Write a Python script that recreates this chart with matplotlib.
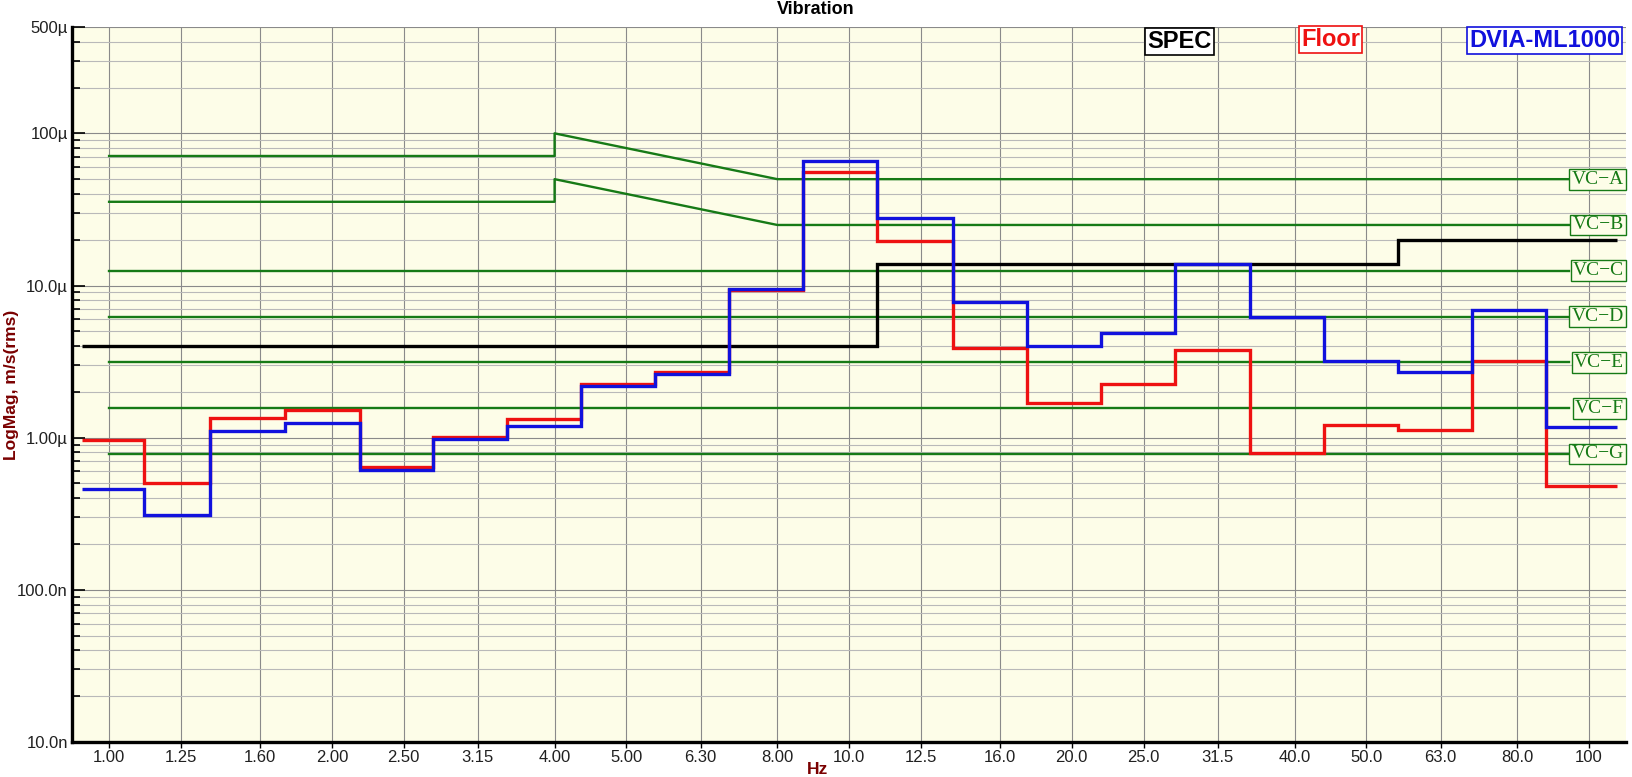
import matplotlib
matplotlib.use('Agg')
import matplotlib.pyplot as plt
import matplotlib.transforms as mtransforms
from matplotlib.ticker import LogLocator, NullLocator, NullFormatter

# 1/3 octave bands (Hz)
band_labels = ['1.00', '1.25', '1.60', '2.00', '2.50', '3.15', '4.00', '5.00', '6.30', '8.00',
               '10.0', '12.5', '16.0', '20.0', '25.0', '31.5', '40.0', '50.0', '63.0', '80.0', '100']
band_centres = [1.0, 1.25, 1.6, 2.0, 2.5, 3.15, 4.0, 5.0, 6.3, 8.0,
                10.0, 12.5, 16.0, 20.0, 25.0, 31.5, 40.0, 50.0, 63.0, 80.0, 100.0]
# step edges as drawn by the analyser
band_edges = [0.92, 1.115, 1.37, 1.73, 2.18, 2.74, 3.45, 4.34, 5.47, 6.89, 8.67,
              10.9, 13.8, 17.4, 21.9, 27.6, 34.8, 43.8, 55.2, 69.4, 87.6, 109.0]

# band levels, um/s rms
floor_um = [0.97, 0.50, 1.35, 1.53, 0.643, 1.01, 1.32, 2.25, 2.72, 9.3, 55.4,
            19.5, 3.89, 1.69, 2.27, 3.78, 0.79, 1.22, 1.13, 3.2, 0.483]
dvia_um = [0.459, 0.311, 1.10, 1.24, 0.614, 0.985, 1.20, 2.18, 2.64, 9.46, 66.0,
           27.6, 7.8, 3.99, 4.86, 13.8, 6.2, 3.18, 2.69, 6.92, 1.17]

# spec limit
spec_edges = [0.92, 10.9, 55.2, 109.0]
spec_um = [4.0, 13.9, 19.8]

# VC criteria curves
vc_names = ['VC\u2212A', 'VC\u2212B', 'VC\u2212C', 'VC\u2212D', 'VC\u2212E', 'VC\u2212F', 'VC\u2212G']
vc_levels_um = [50.0, 25.0, 12.5, 6.25, 3.125, 1.5625, 0.78125]
vc_freq = [1.0, 4.0, 4.0, 8.0, 94.0]
vc_a_um = [71.0, 71.0, 100.0, 50.0, 50.0]
vc_b_um = [35.5, 35.5, 50.0, 25.0, 25.0]
vc_flat_freq = [1.0, 94.0]

u = 1e-6
W, H = 1632, 777
bg = '#fdfde8'
green = '#167a16'
red = '#ee1111'
blue = '#1111dd'
sans = 'Liberation Sans'
serif = 'Liberation Serif'

fig = plt.figure(figsize=(W / 100, H / 100), dpi=100)
ax = fig.add_axes([72 / W, 1 - 742 / H, (1626 - 72) / W, (742 - 27) / H])
ax.set_facecolor(bg)

# criteria lines
ax.plot(vc_freq, [v * u for v in vc_a_um], color=green, lw=1.7, zorder=2)
ax.plot(vc_freq, [v * u for v in vc_b_um], color=green, lw=1.7, zorder=2)
for lev in vc_levels_um[2:]:
    ax.plot(vc_flat_freq, [lev * u, lev * u], color=green, lw=1.7, zorder=2)

# data
ax.stairs([v * u for v in spec_um], spec_edges, baseline=None, color='black', lw=2.4, zorder=3)
ax.stairs([v * u for v in floor_um], band_edges, baseline=None, color=red, lw=2.4, zorder=4)
ax.stairs([v * u for v in dvia_um], band_edges, baseline=None, color=blue, lw=2.4, zorder=5)

# VC labels at right edge
trans = mtransforms.blended_transform_factory(ax.transAxes, ax.transData)
for name, lev in zip(vc_names, vc_levels_um):
    ax.text(0.9985, lev * u, name, transform=trans, ha='right', va='center',
            family=serif, fontsize=14, color=green, zorder=6,
            bbox=dict(boxstyle='square,pad=0.1', fc=bg, ec=green, lw=1.0))

ax.set_xscale('log')
ax.set_yscale('log')
ax.set_xlim(0.891, 112.2)
ax.set_ylim(1e-8, 5e-4)

ax.set_xticks(band_centres)
ax.set_xticklabels(band_labels)
ax.xaxis.set_minor_locator(NullLocator())
ax.set_yticks([1e-8, 1e-7, 1e-6, 1e-5, 1e-4, 5e-4])
ax.set_yticklabels(['10.0n', '100.0n', '1.00\u00b5', '10.0\u00b5', '100\u00b5', '500\u00b5'])
ax.yaxis.set_minor_locator(LogLocator(base=10, subs=[2, 3, 4, 5, 6, 7, 8, 9]))
ax.yaxis.set_minor_formatter(NullFormatter())

ax.grid(which='major', axis='both', color='#8a8a8a', lw=0.8, zorder=0)
ax.grid(which='minor', axis='y', color='#b9b9b9', lw=0.8, zorder=0)
ax.set_axisbelow(True)

for s in ['top', 'right']:
    ax.spines[s].set_visible(False)
for s in ['left', 'bottom']:
    ax.spines[s].set_linewidth(2.4)
    ax.spines[s].set_color('black')

ax.tick_params(axis='y', which='major', direction='in', length=9, width=1.2, pad=3)
ax.tick_params(axis='y', which='minor', direction='in', length=6, width=1.2)
ax.tick_params(axis='x', which='major', direction='out', length=4, width=1.0, pad=2)
for lab in ax.get_xticklabels() + ax.get_yticklabels():
    lab.set_family(sans)
    lab.set_fontsize(12)
    lab.set_color('#202020')

# titles / axis labels
fig.text(0.5, 1 - 9 / H, 'Vibration', ha='center', va='center', family=sans,
         fontsize=13, fontweight='bold', color='black')
fig.text(818 / W, 1 - 770 / H, 'Hz', ha='center', va='center', family=sans,
         fontsize=12.5, fontweight='bold', color='#7a0000')
fig.text(12 / W, 1 - 385 / H, 'LogMag, m/s(rms)', ha='center', va='center', rotation=90,
         family=sans, fontsize=12.5, fontweight='bold', color='#7a0000')

# legend boxes
legend_items = [('SPEC', 'black', 1179.5, 41.5), ('Floor', red, 1330.5, 39.5),
                ('DVIA-ML1000', blue, 1544.5, 40.5)]
for txt, col, px, py in legend_items:
    fig.text(px / W, 1 - py / H, txt, ha='center', va='center', family=sans,
             fontsize=17, fontweight='bold', color=col, zorder=10,
             bbox=dict(boxstyle='square,pad=0.08', fc='white', ec=col, lw=1.2))

fig.savefig('out.png', dpi=100, facecolor='white')
